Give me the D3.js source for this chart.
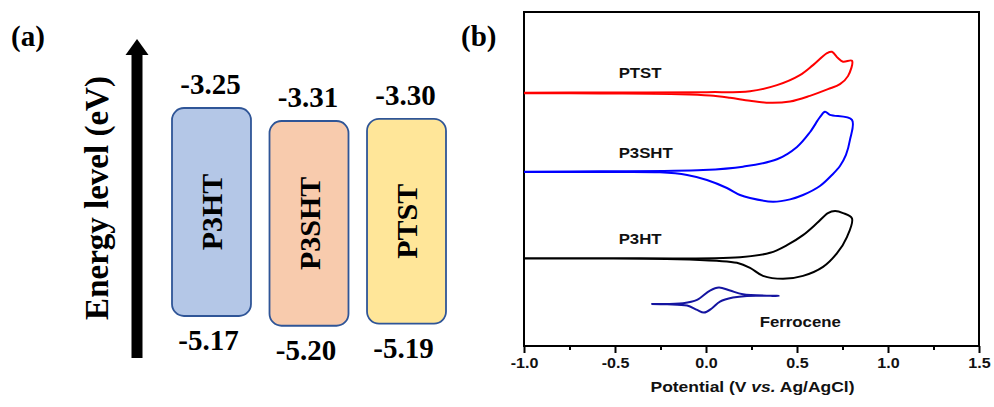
<!DOCTYPE html>
<html>
<head>
<meta charset="utf-8">
<script src="https://cdn.jsdelivr.net/npm/d3@7"></script>
<style>
  html, body { margin: 0; padding: 0; background: #fff; }
  svg { display: block; }
</style>
</head>
<body>
<svg id="chart" width="994" height="407"></svg>
<script>
// ---------- Panel (a) data ----------
const polymers = ["P3HT", "P3SHT", "PTST"];
const lumo = [-3.25, -3.31, -3.30];
const homo = [-5.17, -5.20, -5.19];
const boxFills = ["#b4c7e7", "#f8cbad", "#ffe699"];

// ---------- Panel (b) data (potential V, current a.u. with offset) ----------
const ptstV = [-1.0, -0.582, 0.005, 0.242, 0.390, 0.516, 0.588, 0.665, 0.692, 0.725, 0.753, 0.802,
               0.780, 0.736, 0.670, 0.571, 0.462, 0.352, 0.242, 0.132, 0.022, -0.143, -0.582, -1.0];
const ptstI = [75.8, 75.9, 76.0, 76.3, 78.1, 81.1, 84.1, 87.7, 88.1, 86.2, 85.1, 85.4,
               80.8, 78.4, 76.9, 74.9, 73.2, 72.8, 73.4, 74.3, 75.0, 75.4, 75.6, 75.7];

const p3shtV = [-1.0, -0.582, -0.016, 0.203, 0.390, 0.500, 0.571, 0.626, 0.654, 0.681, 0.802,
                0.791, 0.769, 0.736, 0.692, 0.626, 0.533, 0.462, 0.368, 0.242, 0.187, 0.115, 0.005, -0.104, -0.253, -0.582, -1.0];
const p3shtI = [52.2, 52.3, 52.7, 53.7, 55.9, 59.6, 64.0, 68.5, 70.1, 69.2, 67.7,
                61.7, 57.2, 53.9, 51.2, 47.9, 45.2, 43.9, 43.2, 44.3, 45.2, 47.3, 49.7, 51.2, 52.0, 52.1, 52.1];

const p3htV = [-1.0, -0.582, 0.187, 0.352, 0.445, 0.533, 0.610, 0.670, 0.709, 0.753, 0.802,
               0.775, 0.720, 0.643, 0.533, 0.423, 0.313, 0.242, 0.170, 0.060, -0.159, -0.582, -1.0];
const p3htI = [26.3, 26.3, 26.6, 27.9, 30.2, 33.2, 36.8, 39.8, 40.4, 39.8, 38.2,
               32.7, 27.8, 23.7, 21.0, 20.1, 21.0, 23.4, 24.9, 25.5, 26.0, 26.2, 26.2];

const fcV = [-0.30, -0.126, -0.049, 0.022, 0.071, 0.132, 0.203, 0.40,
             0.225, 0.148, 0.077, 0.033, -0.011, -0.049, -0.104, -0.214, -0.30];
const fcI = [12.6, 12.8, 13.8, 16.6, 17.5, 16.6, 15.5, 15.0,
             15.0, 14.5, 13.3, 11.3, 10.0, 10.8, 12.1, 12.5, 12.6];

const xTicks = [-1.0, -0.5, 0.0, 0.5, 1.0, 1.5];
const xMinorTicks = [-0.75, -0.25, 0.25, 0.75, 1.25];

const curveNames = ["PTST", "P3SHT", "P3HT", "Ferrocene"];
const curveColors = ["#ff0000", "#0000ff", "#000000", "#1414a0"];

const svg = d3.select("#chart");

// ================= Panel (a) =================
const serif = "'Liberation Serif', 'Times New Roman', serif";
svg.append("text").attr("x", 11).attr("y", 46)
  .attr("font-family", serif).attr("font-weight", "bold").attr("font-size", 29).text("(a)");

// Arrow
const ga = svg.append("g");
ga.append("rect").attr("x", 131.5).attr("y", 50).attr("width", 11).attr("height", 308).attr("fill", "#000");
ga.append("path").attr("d", "M137,39 L125.5,55 L148.5,55 Z").attr("fill", "#000");

svg.append("text")
  .attr("transform", "translate(97,198) rotate(-90)")
  .attr("text-anchor", "middle").attr("dominant-baseline", "central")
  .attr("font-family", serif).attr("font-weight", "bold").attr("font-size", 33)
  .text("Energy level (eV)");

const xBand = d3.scaleBand().domain(polymers).range([172, 446]).paddingInner(0.19).paddingOuter(0);
const yLumo = d3.scaleLinear().domain([-3.25, -3.31]).range([108, 121]);
const gapH = d3.scaleLinear().domain([0, 1.92]).range([0, 208]);

const boxes = polymers.map((p, i) => ({ p, lumo: lumo[i], homo: homo[i], fill: boxFills[i] }));
const bg = svg.append("g");
bg.selectAll("rect").data(boxes).join("rect")
  .attr("x", d => xBand(d.p))
  .attr("y", d => yLumo(d.lumo))
  .attr("width", xBand.bandwidth())
  .attr("height", d => gapH(d.lumo - d.homo))
  .attr("rx", 12).attr("ry", 12)
  .attr("fill", d => d.fill).attr("stroke", "#2f5597").attr("stroke-width", 1.8);

bg.selectAll("text.name").data(boxes).join("text").attr("class", "name")
  .attr("transform", d => `translate(${xBand(d.p) + xBand.bandwidth() / 2},${yLumo(d.lumo) + gapH(d.lumo - d.homo) / 2}) rotate(-90)`)
  .attr("text-anchor", "middle").attr("dominant-baseline", "central")
  .attr("font-family", serif).attr("font-weight", "bold").attr("font-size", 30)
  .text(d => d.p);

bg.selectAll("text.lumo").data(boxes).join("text").attr("class", "lumo")
  .attr("x", d => xBand(d.p) + xBand.bandwidth() / 2 - 1)
  .attr("y", d => yLumo(d.lumo) - 14)
  .attr("text-anchor", "middle")
  .attr("font-family", serif).attr("font-weight", "bold").attr("font-size", 29)
  .text(d => d.lumo.toFixed(2));

bg.selectAll("text.homo").data(boxes).join("text").attr("class", "homo")
  .attr("x", d => xBand(d.p) + xBand.bandwidth() / 2 - 3)
  .attr("y", d => yLumo(d.lumo) + gapH(d.lumo - d.homo) + 34)
  .attr("text-anchor", "middle")
  .attr("font-family", serif).attr("font-weight", "bold").attr("font-size", 29)
  .text(d => d.homo.toFixed(2));

// ================= Panel (b) =================
svg.append("text").attr("x", 461).attr("y", 46)
  .attr("font-family", serif).attr("font-weight", "bold").attr("font-size", 29).text("(b)");

const sans = "'Liberation Sans', Arial, sans-serif";
const L = 524, R = 979, T = 12, B = 346;
const x = d3.scaleLinear().domain([-1.0, 1.5]).range([L, R]);
const y = d3.scaleLinear().domain([0, 100]).range([B, T]);

const gb = svg.append("g");
gb.append("rect").attr("x", L).attr("y", T).attr("width", R - L).attr("height", B - T)
  .attr("fill", "none").attr("stroke", "#000").attr("stroke-width", 2);

// minor ticks
gb.append("g").attr("transform", `translate(0,${B})`)
  .call(d3.axisBottom(x).tickValues(xMinorTicks).tickSize(4).tickFormat(""))
  .call(g => g.select(".domain").remove())
  .call(g => g.selectAll("line").attr("stroke-width", 2));

// major ticks
const ax = gb.append("g").attr("transform", `translate(0,${B})`)
  .call(d3.axisBottom(x).tickValues(xTicks).tickSize(7).tickPadding(5).tickFormat(d => d.toFixed(1)));
ax.select(".domain").remove();
ax.selectAll("line").attr("stroke-width", 2);
ax.selectAll("text")
  .attr("font-family", sans).attr("font-weight", "bold").attr("font-size", 14)
  .attr("fill", "#111")
  .attr("transform", "scale(1.15,1)");

svg.append("text")
  .attr("x", (L + R) / 2 + 1).attr("y", 392)
  .attr("text-anchor", "middle")
  .attr("font-family", sans).attr("font-weight", "bold").attr("font-size", 15)
  .attr("fill", "#111")
  .attr("textLength", 204).attr("lengthAdjust", "spacingAndGlyphs")
  .append("tspan").text("Potential (V ")
  .select(function () { return this.parentNode; })
  .append("tspan").attr("font-style", "italic").text("vs.")
  .select(function () { return this.parentNode; })
  .append("tspan").text(" Ag/AgCl)");

const series = [
  { v: ptstV, i: ptstI }, { v: p3shtV, i: p3shtI }, { v: p3htV, i: p3htI }, { v: fcV, i: fcI }
].map((s, k) => ({ name: curveNames[k], color: curveColors[k], pts: s.v.map((vv, j) => [vv, s.i[j]]) }));

const line = d3.line().x(d => x(d[0])).y(d => y(d[1])).curve(d3.curveCatmullRom.alpha(0.5));
gb.selectAll("path.cv").data(series).join("path").attr("class", "cv")
  .attr("d", d => line(d.pts))
  .attr("fill", "none").attr("stroke", d => d.color).attr("stroke-width", 2)
  .attr("stroke-linejoin", "round");

// curve labels
const labelPos = [[-0.48, 80.2], [-0.48, 56.2], [-0.48, 30.5], [0.295, 5.8]];
gb.selectAll("text.cl").data(series).join("text").attr("class", "cl")
  .attr("transform", (d, k) => `translate(${x(labelPos[k][0])},${y(labelPos[k][1])}) scale(1.2,1)`)
  .attr("text-anchor", "start")
  .attr("font-family", sans).attr("font-weight", "bold").attr("font-size", 14)
  .attr("fill", "#111")
  .text(d => d.name);
</script>
</body>
</html>
